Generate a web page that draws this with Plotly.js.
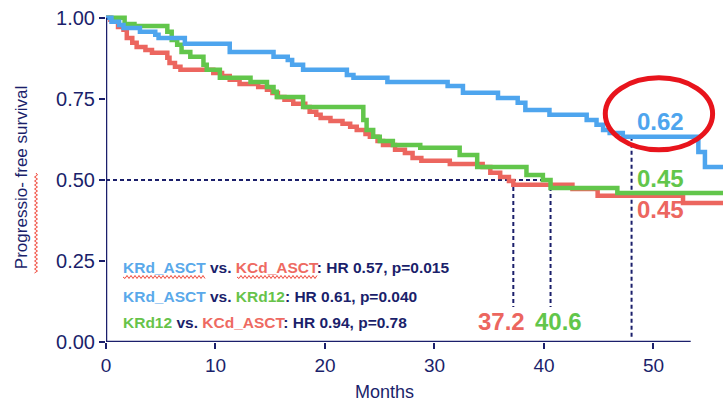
<!DOCTYPE html>
<html>
<head>
<meta charset="utf-8">
<script src="https://cdn.plot.ly/plotly-3.0.1.min.js"></script>
<style>html,body{margin:0;padding:0;background:#fff;}#chart{width:723px;height:405px;}</style>
</head>
<body>
<div id="chart"></div>
<script>
// ---- Data ----
var blueName = "KRd_ASCT";
var blueX = [0, 0.5, 1.2, 1.6, 3.1, 4.5, 4.8, 7.2, 11.3, 15.3, 16.6, 17.0, 18.0, 22.0, 22.6, 25.7, 31.2, 32.6, 35.8, 37.6, 38.3, 40.5, 43.9, 44.8, 45.4, 46.0, 47.2, 54.1, 54.7, 56.4];
var blueY = [1.0, 0.988, 0.978, 0.969, 0.957, 0.948, 0.938, 0.92, 0.895, 0.880, 0.870, 0.855, 0.840, 0.824, 0.815, 0.802, 0.790, 0.769, 0.753, 0.738, 0.716, 0.701, 0.685, 0.670, 0.654, 0.645, 0.633, 0.586, 0.54, 0.54];

var greenName = "KRd12";
var greenX = [0, 1.7, 2.6, 5.6, 6.0, 6.5, 6.9, 7.7, 8.9, 9.2, 10.4, 13.2, 14.7, 15.3, 15.6, 18.0, 23.5, 23.8, 24.4, 25.0, 26.2, 28.7, 32.3, 33.9, 38.4, 39.9, 40.6, 46.7, 56.4];
var greenY = [1.0, 0.981, 0.975, 0.957, 0.932, 0.917, 0.895, 0.880, 0.855, 0.840, 0.815, 0.802, 0.787, 0.772, 0.756, 0.725, 0.685, 0.654, 0.633, 0.620, 0.608, 0.599, 0.577, 0.540, 0.515, 0.50, 0.475, 0.46, 0.46];

var redName = "KCd_ASCT";
var redX = [0, 0.4, 1.1, 1.6, 1.9, 2.4, 2.8, 3.6, 4.2, 5.6, 5.8, 6.3, 6.8, 9.8, 10.6, 11.3, 12.2, 13.9, 14.7, 15.2, 15.7, 16.3, 17.1, 18.2, 18.6, 19.2, 19.6, 20.5, 21.6, 22.3, 22.9, 23.7, 24.1, 24.8, 25.3, 26.4, 27.3, 28.0, 28.8, 31.4, 34.4, 35.1, 36.0, 36.8, 37.2, 42.6, 44.9, 52.7, 56.4];
var redY = [1.0, 0.994, 0.972, 0.963, 0.938, 0.923, 0.910, 0.901, 0.892, 0.877, 0.861, 0.849, 0.840, 0.830, 0.821, 0.809, 0.796, 0.787, 0.778, 0.768, 0.756, 0.747, 0.735, 0.725, 0.710, 0.701, 0.691, 0.682, 0.673, 0.664, 0.654, 0.642, 0.633, 0.620, 0.608, 0.593, 0.583, 0.568, 0.559, 0.549, 0.540, 0.522, 0.509, 0.497, 0.485, 0.472, 0.451, 0.429, 0.429];

// medians (red, green) and 48-month landmark
var medianValues = [37.2, 40.6];
var medianLabels = ["37.2", "40.6"];
var landmarkMonth = 48;
var landmarkLabels = ["0.62", "0.45", "0.45"];

var hrLines = [
  ["KRd_ASCT", "KCd_ASCT", ": HR 0.57, p=0.015"],
  ["KRd_ASCT", "KRd12", ": HR 0.61, p=0.040"],
  ["KRd12", "KCd_ASCT", ": HR 0.94, p=0.78"]
];

var xTicks = [0, 10, 20, 30, 40, 50];
var yTicks = [0, 0.25, 0.5, 0.75, 1.0];

// ---- Styling ----
var NAVY = "#1b1f6b";
var BLUE = "#4ea5ee";
var GREEN = "#62c64b";
var RED = "#ec665f";
var colorOf = {"KRd_ASCT": "#5aa9ea", "KRd12": "#67c34a", "KCd_ASCT": "#ee6a62"};
var FONT = "Liberation Sans, Arial, Helvetica, sans-serif";

// pixel helpers for decorations (plot: x0 at 106px, 10.95 px/month; y0 at 342px, 324.1 px/unit)
function dx(px) { return (px - 106) / 10.95; }
function dy(py) { return (342 - py) / 324.1; }

function stepTrace(x, y, color, name) {
  return {x: x, y: y, type: "scatter", mode: "lines", name: name,
    line: {shape: "hv", color: color, width: 4.5}, hoverinfo: "skip"};
}
var traces = [
  stepTrace(redX, redY, RED, redName),
  stepTrace(greenX, greenY, GREEN, greenName),
  stepTrace(blueX, blueY, BLUE, blueName)
];

var shapes = [];
var dash = {color: NAVY, width: 2, dash: "4px,3px"};
shapes.push({type: "line", xref: "x", yref: "y", x0: 0, x1: Math.max.apply(null, medianValues), y0: 0.5, y1: 0.5, line: dash, layer: "below"});
medianValues.forEach(function (m) {
  shapes.push({type: "line", xref: "x", yref: "y", x0: m, x1: m, y0: 0.5, y1: 0.108, line: dash, layer: "below"});
});
shapes.push({type: "line", xref: "x", yref: "y", x0: landmarkMonth, x1: landmarkMonth, y0: 0.633, y1: 0.015, line: dash, layer: "below"});
// axis lines
shapes.push({type: "line", xref: "x", yref: "y", x0: 0, x1: 0, y0: 0, y1: 1.0, line: {color: NAVY, width: 2.5}});
shapes.push({type: "line", xref: "x", yref: "y", x0: 0, x1: 53.4, y0: 0, y1: 0, line: {color: NAVY, width: 2.5}});
// red ellipse
shapes.push({type: "circle", xref: "x", yref: "y", x0: 45.6, x1: 55.4, y0: 0.593, y1: 0.815, line: {color: "#e8141c", width: 5}});

// spell-check style wavy underlines
function wavyH(px0, px1, py) {
  var p = "M " + dx(px0) + "," + dy(py);
  var k = 0;
  for (var x = px0 + 2; x <= px1; x += 2) { k++; p += " L " + dx(x) + "," + dy(py + (k % 2 ? 1.5 : -1.5)); }
  return {type: "path", xref: "x", yref: "y", path: p, line: {color: "#f0483a", width: 1}};
}
function wavyVPaper(px, py0, py1) {
  // vertical wavy line outside the plot area, in paper coordinates
  function pxp(v) { return (v - 106) / 617; }
  function pyp(v) { return (342 - v) / 329; }
  var p = "M " + pxp(px) + "," + pyp(py0);
  var k = 0;
  for (var y = py0 + 2; y <= py1; y += 2) { k++; p += " L " + pxp(px + (k % 2 ? 1.5 : -1.5)) + "," + pyp(y); }
  return {type: "path", xref: "paper", yref: "paper", path: p, line: {color: "#f0483a", width: 1}};
}
shapes.push(wavyH(123, 206, 277));
shapes.push(wavyH(237, 318, 277));
shapes.push(wavyVPaper(36, 173, 273));

var annotations = [];
var hrY = [0.231, 0.139, 0.059];
hrLines.forEach(function (l, i) {
  var t = "<b><span style='color:" + colorOf[l[0]] + "'>" + l[0] + "</span> vs. <span style='color:" + colorOf[l[1]] + "'>" + l[1] + "</span>" + l[2] + "</b>";
  annotations.push({xref: "x", yref: "y", x: 1.4, y: hrY[i], xanchor: "left", yanchor: "middle", showarrow: false,
    text: t, font: {family: FONT, size: 15.5, color: NAVY}});
});
var medColors = [RED, GREEN];
var medX = [36.1, 41.3];
medianLabels.forEach(function (lab, i) {
  annotations.push({xref: "x", yref: "y", x: medX[i], y: 0.062, xanchor: "center", yanchor: "middle", showarrow: false,
    text: "<b>" + lab + "</b>", font: {family: FONT, size: 24, color: medColors[i]}});
});
var lmColors = [BLUE, GREEN, RED];
var lmY = [0.68, 0.505, 0.41];
landmarkLabels.forEach(function (lab, i) {
  annotations.push({xref: "x", yref: "y", x: 50.6, y: lmY[i], xanchor: "center", yanchor: "middle", showarrow: false,
    text: "<b>" + lab + "</b>", font: {family: FONT, size: 24, color: lmColors[i]}});
});
annotations.push({xref: "x", yref: "paper", x: 25.4, y: -0.152, yanchor: "middle", xanchor: "center", showarrow: false,
  text: "Months", font: {family: FONT, size: 18, color: NAVY}});

var layout = {
  width: 723, height: 405,
  margin: {l: 106, r: 0, t: 13, b: 63, pad: 0},
  paper_bgcolor: "#ffffff", plot_bgcolor: "#ffffff",
  showlegend: false,
  font: {family: FONT, color: NAVY},
  xaxis: {range: [0, 56.35], tickvals: xTicks, ticktext: xTicks.map(String), showgrid: false, zeroline: false, showline: false,
    ticks: "outside", ticklen: 6, tickwidth: 2, tickcolor: NAVY, tickfont: {family: FONT, size: 19, color: NAVY}, fixedrange: true},
  yaxis: {range: [0, 1.015], tickvals: yTicks, ticktext: yTicks.map(function (v) { return v.toFixed(2); }), showgrid: false, zeroline: false, showline: false,
    ticks: "outside", ticklen: 6, tickwidth: 2, tickcolor: NAVY, tickfont: {family: FONT, size: 20, color: NAVY},
    title: {text: "Progressio- free survival", font: {family: FONT, size: 17, color: NAVY}, standoff: 24}, fixedrange: true},
  shapes: shapes,
  annotations: annotations
};

Plotly.newPlot("chart", traces, layout, {displayModeBar: false, staticPlot: true});
</script>
</body>
</html>
